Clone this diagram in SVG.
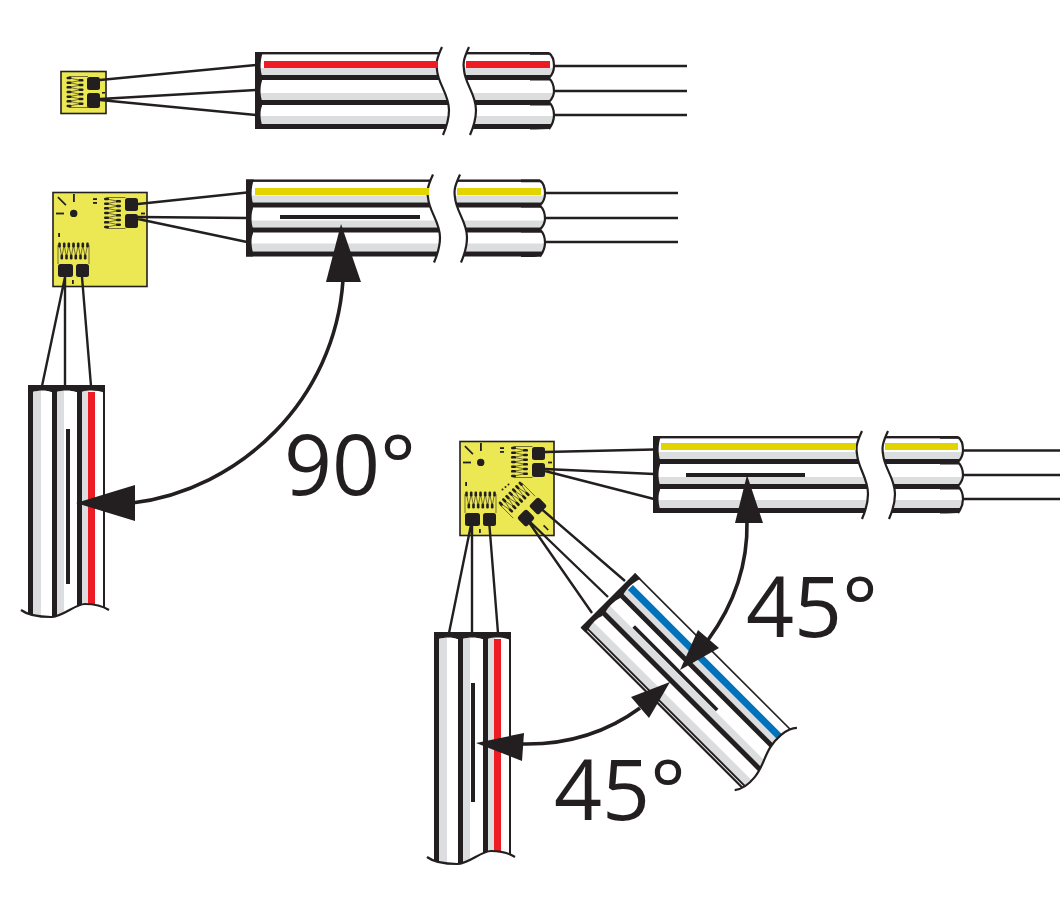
<svg xmlns="http://www.w3.org/2000/svg" xmlns:xlink="http://www.w3.org/1999/xlink" width="1060" height="908" viewBox="0 0 1060 908">
<style>
.k{fill:#231f20}
.g{fill:#dcddde}
.cut{fill:none;stroke:#231f20;stroke-width:2.2}
.wire{fill:none;stroke:#231f20;stroke-width:2.4}
.arc{fill:none;stroke:#231f20;stroke-width:3.6}
.board{fill:#ebe853;stroke:#231f20;stroke-width:1.6}
.hair{fill:none;stroke:#231f20;stroke-width:.6}
.lbl{font-family:"Open Sans","Noto Sans",sans-serif;font-size:84px;fill:#231f20}
</style>
<defs>
<clipPath id="hClip"><path d="M0,-6H187C181,8 181,12 182,18C183,32 194,42 194,58C194,66 191,76 188,83H0ZM214,-5H294V1C298,4 299,10 299,14C299,20 296,24 294,26C298,30 299,35 299,39C299,44 296,48 294,50C298,54 299,58 299,63C299,68 297,73 294,77L215,83C218,76 221,66 221,58C221,42 210,32 209,18C208,12 208,8 214,-5Z"/></clipPath>
<clipPath id="hClip3"><path d="M0,-6H209C203,8 203,12 204,18C205,32 215,42 215,58C215,66 212,76 209,83H0ZM235,-5H305V1C309,4 310,10 310,14C310,20 307,24 305,26C309,30 310,35 310,39C310,44 307,48 305,50C309,54 310,58 310,63C310,68 308,73 305,77L236,83C239,76 242,66 242,58C242,42 231,32 230,18C229,12 229,8 235,-5Z"/></clipPath>
<clipPath id="vClip"><path d="M0,-6H225C220,4 219,12 219,20C219,30 232,42 232,54C232,66 231,76 225,84H0Z"/></clipPath>
<clipPath id="dClip"><path d="M0,-6H224C216,3 217,20 219,28C222,40 228,48 229,60C230,70 228,78 224,84H0Z"/></clipPath>
<g id="bands">
<rect class="g" x="5" y="16" width="320" height="7"/>
<rect class="k" x="0" y="23" width="325" height="5"/>
<rect class="g" x="5" y="41" width="320" height="7"/>
<rect class="k" x="0" y="48" width="325" height="5"/>
<rect class="g" x="5" y="64" width="320" height="8"/>
<rect class="k" x="0" y="72" width="325" height="5"/>
</g>
<path id="bar" class="k" d="M0,0H8C5,8 5,17 7,24V29C5,34 5,43 7,49V54C5,58 5,66 7,73V77H0Z"/>
<g id="hCable">
<g clip-path="url(#hClip)">
<use href="#bands"/>
<rect class="k" x="0" y="0" width="325" height="2.4"/>
<path class="k" d="M275,0h20v2.8h-20zM275,28h20v.6h-20zM275,53h20v.6h-20zM275,76h20v1.4h-20z"/>
</g>
<path class="cut" d="M187,-5C181,8 181,12 182,18C183,32 194,42 194,58C194,66 191,76 188,83"/>
<path class="cut" d="M214,-5C208,8 208,12 209,18C210,32 221,42 221,58C221,66 218,76 215,83"/>
<path class="cut" d="M294,1C298,4 299,10 299,14C299,20 296,24 294,26C298,30 299,35 299,39C299,44 296,48 294,50C298,54 299,58 299,63C299,68 297,73 294,77"/>
<use href="#bar"/>
</g>
<g id="vCable">
<g clip-path="url(#vClip)">
<use href="#bands"/>
<rect class="k" x="0" y="0" width="325" height="2"/>
<rect x="7" y="10" width="240" height="7" fill="#ed1c24"/>
</g>
<path class="cut" d="M225,-4C220,4 219,12 219,20C219,30 232,42 232,54C232,66 231,76 225,84"/>
<use href="#bar"/>
</g>
<g id="grid">
<path class="hair" d="M-6,-15.5H13M-6,15.5H13M-6,-14L6,-11.7L-6,-9.3L6,-7L-6,-4.7L6,-2.3L-6,0L6,2.3L-6,4.7L6,7L-6,9.3L6,11.7L-6,14"/>
<g class="k">
<rect x="-8.5" y="-15.3" width="5" height="2.6" rx="1.2"/><rect x="-8.5" y="-10.6" width="5" height="2.6" rx="1.2"/><rect x="-8.5" y="-6" width="5" height="2.6" rx="1.2"/><rect x="-8.5" y="-1.3" width="5" height="2.6" rx="1.2"/><rect x="-8.5" y="3.4" width="5" height="2.6" rx="1.2"/><rect x="-8.5" y="8" width="5" height="2.6" rx="1.2"/><rect x="-8.5" y="12.7" width="5" height="2.6" rx="1.2"/>
<rect x="3.5" y="-13" width="5" height="2.6" rx="1.2"/><rect x="3.5" y="-8.3" width="5" height="2.6" rx="1.2"/><rect x="3.5" y="-3.6" width="5" height="2.6" rx="1.2"/><rect x="3.5" y="1" width="5" height="2.6" rx="1.2"/><rect x="3.5" y="5.7" width="5" height="2.6" rx="1.2"/><rect x="3.5" y="10.4" width="5" height="2.6" rx="1.2"/>
</g>
</g>
<g id="board2">
<rect class="board" x="53" y="192.5" width="94" height="94"/>
<use href="#grid" transform="translate(112.5,213)"/>
<use href="#grid" transform="translate(73.5,251) rotate(90)"/>
<g class="k">
<rect x="125" y="198" width="13" height="13" rx="2.5"/><rect x="125" y="214" width="13" height="14" rx="2.5"/>
<rect x="58" y="264" width="15" height="13" rx="2.5"/><rect x="76" y="264" width="13" height="13" rx="2.5"/>
<circle cx="73.7" cy="213.4" r="3.7"/>
<rect x="93" y="198.2" width="4" height="1.8"/><rect x="93" y="202" width="4" height="1.8"/>
<rect x="141" y="212.6" width="4" height="1.8"/><rect x="58.2" y="233" width="1.8" height="4"/><rect x="72" y="280" width="1.8" height="4"/>
<rect x="56" y="212.6" width="8" height="1.8"/><rect x="73" y="194" width="1.8" height="8"/>
<path d="M58.5,196.5L66.5,204.5L65.3,205.7L57.3,197.7Z"/>
</g>
</g>
</defs>

<g id="cable-1">
<use href="#hCable" transform="translate(255,52)"/>
<rect x="264" y="61" width="174" height="7" fill="#ed1c24"/>
<rect x="466" y="61" width="84" height="7" fill="#ed1c24"/>
</g>
<g id="gauge-1">
<rect class="board" x="61" y="71.5" width="45" height="42"/>
<use href="#grid" transform="translate(75,92)"/>
<g class="k">
<rect x="87" y="77" width="13" height="13" rx="2.5"/><rect x="87" y="93" width="13" height="15" rx="2.5"/>
<rect x="102" y="92" width="3" height="1.6"/>
</g>
</g>

<g id="cable-2">
<use href="#hCable" transform="translate(246,179.5)"/>
<rect x="255" y="188" width="174" height="7" fill="#e3d400"/>
<rect x="457" y="188" width="84" height="7" fill="#e3d400"/>
<rect class="k" x="280" y="215" width="140" height="4"/>
</g>
<use id="gauge-2" href="#board2"/>

<g id="cable-3">
<use href="#vCable" transform="translate(105,385) rotate(90)"/>
<rect class="k" x="66" y="429" width="4" height="155"/>
</g>

<g id="cable-4">
<g transform="translate(653,436)">
<g clip-path="url(#hClip3)">
<use href="#bands"/>
<rect class="k" x="0" y="0" width="325" height="2.4"/>
<path class="k" d="M287,0h20v2.8h-20zM287,28h20v.6h-20zM287,53h20v.6h-20zM287,76h20v1.4h-20z"/>
</g>
<path class="cut" d="M209,-5C203,8 203,12 204,18C205,32 215,42 215,58C215,66 212,76 209,83"/>
<path class="cut" d="M235,-5C229,8 229,12 230,18C231,32 242,42 242,58C242,66 239,76 236,83"/>
<path class="cut" d="M305,1C309,4 310,10 310,14C310,20 307,24 305,26C309,30 310,35 310,39C310,44 307,48 305,50C309,54 310,58 310,63C310,68 308,73 305,77"/>
<use href="#bar"/>
</g>
<rect x="661" y="443" width="195" height="7" fill="#e3d400"/>
<rect x="885" y="443" width="73" height="7" fill="#e3d400"/>
<rect class="k" x="686" y="473" width="119" height="4"/>
</g>

<g id="gauge-3">
<use href="#board2" transform="translate(407,249)"/>
<use href="#grid" transform="translate(515,498) rotate(45)"/>
<g class="k">
<rect x="-6.5" y="-6.5" width="13" height="13" rx="2.5" transform="translate(538,506) rotate(45)"/>
<rect x="-6.5" y="-6.5" width="13" height="13" rx="2.5" transform="translate(526,518) rotate(45)"/>
<path d="M543,526L544.2,524.8L548.8,529.4L547.6,530.6Z"/>
<circle cx="502.5" cy="489.5" r="1"/><circle cx="505.5" cy="487" r="1"/><circle cx="508.5" cy="484.5" r="1"/>
</g>
</g>

<g id="cable-5">
<use href="#vCable" transform="translate(511,632) rotate(90)"/>
<rect class="k" x="471" y="683" width="4" height="119"/>
</g>

<g id="cable-6" transform="translate(635,573) rotate(45)">
<g clip-path="url(#dClip)">
<use href="#bands"/>
<rect class="k" x="0" y="0" width="325" height="1.6"/>
<rect x="7" y="10" width="240" height="7" fill="#0072bc"/>
<rect x="0" y="74" width="325" height=".8" fill="#fff"/>
<rect class="k" x="37" y="37" width="118" height="3.6"/>
</g>
<path class="cut" d="M224,-5C216,3 217,20 219,28C222,40 228,48 229,60C230,70 228,78 224,83"/>
<use href="#bar"/>
</g>

<g id="connectors">
<path class="wire" d="M100,80L256,65M100,99L256,90M100,100L256,115M554,66H687M554,91H687M554,115H687"/>
<path class="wire" d="M138,204L247,192.5M138,217L247,218M138,219L247,242M545,193H678M545,218H678M545,242H678"/>
<path class="wire" d="M65,277L42,386M65,277V387M82,277L91,386"/>
<path class="wire" d="M545,452L654,449.5M545,469L654,474M545,471L654,499M963,450.5H1060M963,475H1060M963,499H1060"/>
<path class="wire" d="M472,520L449,633M472,520V633M489,520L498,633M538,506L625,581M526,518L608,597M526,518L592,613"/>
<path class="arc" d="M343,280C335,400 240,490 132,503"/>
<polygon class="k" points="341,224 361,282 326,282"/>
<polygon class="k" points="76,503 135,485 135,521"/>
<path class="arc" d="M747,521C748,570 730,610 708,640"/>
<polygon class="k" points="747,475 763,523 735,523"/>
<polygon class="k" points="680,670 698,630 719,648"/>
<path class="arc" d="M640,708C610,730 570,745 522,744"/>
<polygon class="k" points="670,682 631,697 649,718"/>
<polygon class="k" points="476,743 524,733 522,761"/>
</g>

<g id="labels">
<text class="lbl" x="284" y="495">90°</text>
<text class="lbl" x="746" y="637">45°</text>
<text class="lbl" x="554" y="820">45°</text>
</g>
</svg>
